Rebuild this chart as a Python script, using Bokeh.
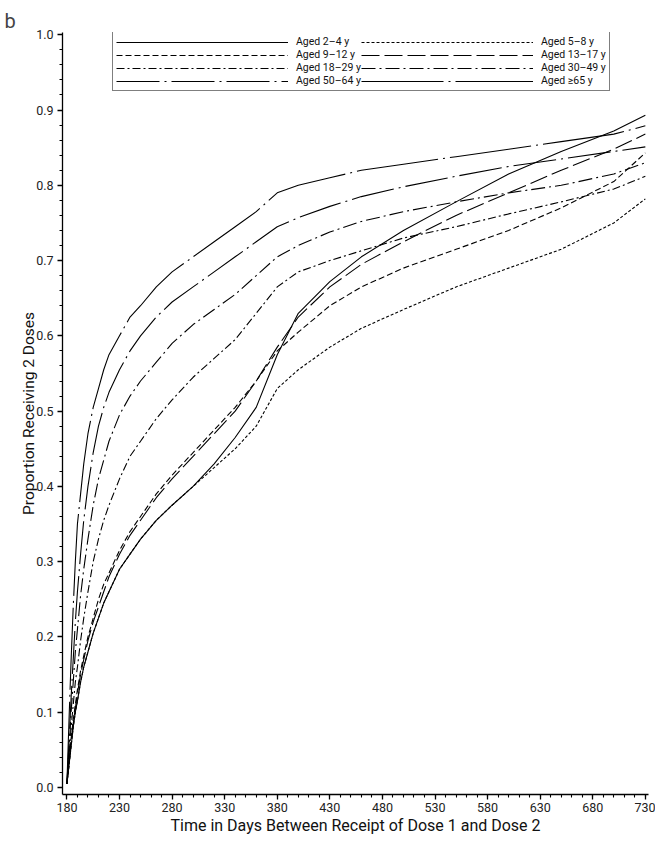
from bokeh.plotting import figure
from bokeh.models import FixedTicker, Legend, LegendItem, Range1d, PrintfTickFormatter
from bokeh.embed import file_html
from bokeh.resources import INLINE

days = [180, 182, 184, 186, 188, 190, 193, 196, 200, 205, 210, 215, 220, 230, 240, 250,
        265, 280, 300, 320, 340, 360, 380, 400, 430, 460, 500, 550, 600, 650, 700, 730]

aged_2_4 = [0.005, 0.03, 0.055, 0.08, 0.10, 0.115, 0.14, 0.16, 0.18, 0.205, 0.225, 0.245, 0.26, 0.29, 0.31, 0.33,
            0.355, 0.375, 0.40, 0.43, 0.465, 0.505, 0.575, 0.63, 0.672, 0.705, 0.74, 0.778, 0.815, 0.845, 0.872, 0.893]
aged_5_8 = [0.005, 0.03, 0.055, 0.08, 0.10, 0.115, 0.14, 0.16, 0.18, 0.205, 0.225, 0.245, 0.26, 0.29, 0.31, 0.33,
            0.355, 0.375, 0.40, 0.425, 0.45, 0.48, 0.53, 0.555, 0.585, 0.61, 0.635, 0.665, 0.69, 0.715, 0.75, 0.782]
aged_9_12 = [0.005, 0.035, 0.065, 0.09, 0.11, 0.13, 0.155, 0.175, 0.20, 0.225, 0.25, 0.27, 0.285, 0.315, 0.34, 0.36,
             0.39, 0.415, 0.445, 0.475, 0.505, 0.54, 0.58, 0.605, 0.64, 0.665, 0.69, 0.715, 0.74, 0.77, 0.805, 0.843]
aged_13_17 = [0.005, 0.03, 0.06, 0.085, 0.105, 0.125, 0.15, 0.17, 0.195, 0.22, 0.24, 0.26, 0.28, 0.31, 0.335, 0.355,
              0.385, 0.41, 0.44, 0.47, 0.50, 0.54, 0.585, 0.625, 0.665, 0.695, 0.725, 0.76, 0.79, 0.82, 0.848, 0.868]
aged_18_29 = [0.005, 0.04, 0.08, 0.11, 0.14, 0.16, 0.195, 0.225, 0.26, 0.30, 0.33, 0.355, 0.375, 0.41, 0.44, 0.46,
              0.49, 0.515, 0.545, 0.57, 0.595, 0.63, 0.665, 0.685, 0.70, 0.713, 0.73, 0.745, 0.762, 0.778, 0.795, 0.812]
aged_30_49 = [0.005, 0.05, 0.10, 0.14, 0.18, 0.21, 0.255, 0.29, 0.33, 0.375, 0.41, 0.435, 0.46, 0.495, 0.52, 0.54,
              0.565, 0.59, 0.615, 0.635, 0.655, 0.68, 0.705, 0.72, 0.738, 0.752, 0.765, 0.778, 0.79, 0.80, 0.815, 0.83]
aged_50_64 = [0.005, 0.06, 0.12, 0.17, 0.22, 0.26, 0.31, 0.355, 0.40, 0.445, 0.48, 0.505, 0.525, 0.555, 0.58, 0.60,
              0.625, 0.645, 0.665, 0.685, 0.705, 0.725, 0.745, 0.757, 0.772, 0.785, 0.798, 0.812, 0.825, 0.835, 0.845, 0.851]
aged_65_plus = [0.005, 0.09, 0.17, 0.24, 0.30, 0.35, 0.39, 0.43, 0.47, 0.505, 0.53, 0.555, 0.575, 0.60, 0.625, 0.64,
                0.665, 0.685, 0.705, 0.725, 0.745, 0.765, 0.79, 0.80, 0.81, 0.82, 0.828, 0.838, 0.848, 0.858, 0.868, 0.879]

labels = ["Aged 2\u20134 y", "Aged 5\u20138 y", "Aged 9\u201312 y", "Aged 13\u201317 y",
          "Aged 18\u201329 y", "Aged 30\u201349 y", "Aged 50\u201364 y", "Aged \u226565 y"]
series = [aged_2_4, aged_5_8, aged_9_12, aged_13_17, aged_18_29, aged_30_49, aged_50_64, aged_65_plus]
dashes = ["solid", "3 2", "6 3", "18 5", "8 3 2 3", "14 4 2 4", "43 5 2 5", "82 5 2 5"]

x_ticks = [180, 230, 280, 330, 380, 430, 480, 530, 580, 630, 680, 730]
y_ticks = [0.0, 0.1, 0.2, 0.3, 0.4, 0.5, 0.6, 0.7, 0.8, 0.9, 1.0]

FONT = "Roboto"

p = figure(width=655, height=837, output_backend="svg", toolbar_location=None,
           x_range=Range1d(175.8, 733), y_range=Range1d(-0.0093, 1.003),
           min_border_left=62, min_border_right=7, min_border_top=32, min_border_bottom=38,
           title="b")
p.title.text_font = FONT
p.title.text_font_size = "20px"
p.title.text_font_style = "normal"
p.title.align = "left"
p.title.offset = -58
p.title.standoff = 0

p.grid.visible = False
p.outline_line_color = None
p.background_fill_color = "white"

renderers = []
for vals, dash in zip(series, dashes):
    r = p.line(days, vals, line_color="black", line_width=1.1, line_dash=dash)
    renderers.append(r)

for ax in (p.xaxis[0], p.yaxis[0]):
    ax.axis_line_color = "black"
    ax.axis_line_width = 1.3
    ax.major_tick_in = 0
    ax.major_tick_out = 5
    ax.minor_tick_in = 0
    ax.minor_tick_out = 3
    ax.major_tick_line_width = 1.3
    ax.minor_tick_line_width = 1.1
    ax.major_label_text_font = FONT
    ax.major_label_text_font_size = "12.5px"
    ax.major_label_text_color = "#222222"
    ax.axis_label_text_font = FONT
    ax.axis_label_text_font_style = "normal"
    ax.axis_label_text_color = "#111111"

p.xaxis.ticker = FixedTicker(ticks=x_ticks, minor_ticks=list(range(180, 731, 10)))
p.yaxis.ticker = FixedTicker(ticks=y_ticks, minor_ticks=[i / 50 for i in range(0, 51)])
p.yaxis.formatter = PrintfTickFormatter(format="%.1f")
p.xaxis.axis_label = "Time in Days Between Receipt of Dose 1 and Dose 2"
p.yaxis.axis_label = "Proportion Receiving 2 Doses"
p.xaxis.axis_label_text_font_size = "16px"
p.yaxis.axis_label_text_font_size = "15.5px"
p.xaxis.major_label_standoff = 3
p.yaxis.major_label_standoff = 4
p.xaxis.axis_label_standoff = 1
p.yaxis.axis_label_standoff = -5

order = [0, 2, 4, 6, 1, 3, 5, 7]
items = [LegendItem(label=labels[i], renderers=[renderers[i]]) for i in order]
legend = Legend(items=items, location=(50, 703), orientation="vertical", ncols=2,
                border_line_color="black", border_line_width=1.2, background_fill_color="white",
                background_fill_alpha=1.0, padding=3, spacing=0, margin=0,
                glyph_width=172, glyph_height=8, label_height=8, label_width=60,
                label_standoff=8, label_text_font=FONT, label_text_font_size="10.5px",
                label_text_color="#111111")
p.add_layout(legend, "center")

open("out.html", "w").write(file_html(p, INLINE))
